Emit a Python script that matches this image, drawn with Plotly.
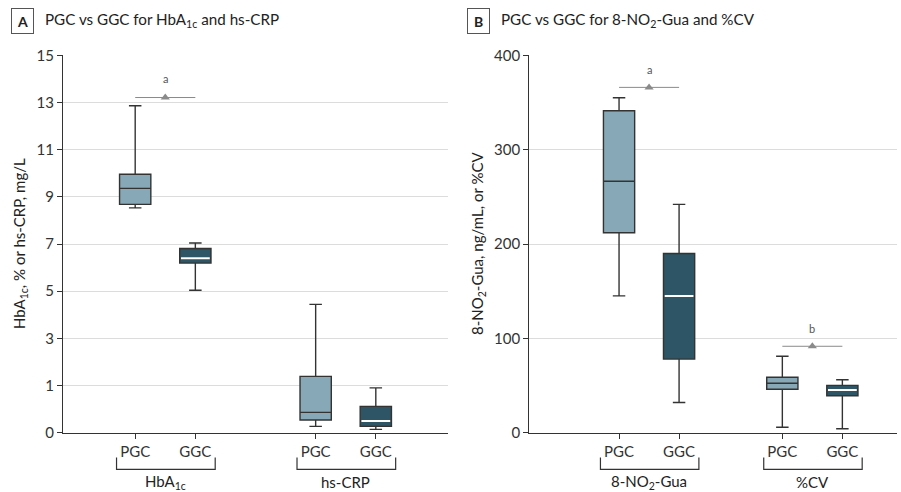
import plotly.graph_objects as go

# ---------------- data ----------------
groups_a = ["HbA<sub>1c</sub>", "hs-CRP"]
groups_b = ["8-NO<sub>2</sub>-Gua", "%CV"]
box_labels = ["PGC", "GGC"]

# panel A: [PGC, GGC] for each group
hba1c_low = [8.53, 5.04]
hba1c_q1 = [8.68, 6.19]
hba1c_med = [9.36, 6.40]
hba1c_q3 = [9.96, 6.81]
hba1c_high = [12.86, 7.04]

crp_low = [0.135, 0.07]
crp_q1 = [0.27, 0.135]
crp_med = [0.43, 0.247]
crp_q3 = [1.39, 0.557]
crp_high = [4.44, 0.95]

# panel B
gua_low = [145, 32]
gua_q1 = [212, 78]
gua_med = [266.5, 145]
gua_q3 = [341.3, 190]
gua_high = [355, 242]

cv_low = [5.7, 4.2]
cv_q1 = [46, 39.2]
cv_med = [52.4, 45.3]
cv_q3 = [58.7, 50.2]
cv_high = [81, 56.2]

# significance brackets: value of line, label
sig_a = [(13.21, "a")]
sig_b = [(366, "a"), (91.6, "b")]

yticks_a = [0, 1, 3, 5, 7, 9, 11, 13, 15]
yticks_b = [0, 100, 200, 300, 400]

# ---------------- style ----------------
FONT = "Lato, Roboto, sans-serif"
FILL = ["#86A8B7", "#2D5565"]
MEDC = ["#2a2a2a", "#ffffff"]
EDGE = "#333333"
GRID = "#dcdcdc"
SIGC = "#8a8a8a"

def ta(v):
    """piecewise scale of panel A: 0-1 stretched twice"""
    return 2 * v if v <= 1 else v + 1

pos_a = [[1, 2], [4, 5]]
pos_b = [[1, 2], [3.72, 4.72]]
BW = 0.52

fig = go.Figure()

def add_boxes(xref, yref, pos, lows, q1s, meds, q3s, highs, tf):
    for j in range(2):
        x = pos[j]
        fig.add_trace(go.Box(
            x=[x], q1=[tf(q1s[j])], median=[tf(meds[j])], q3=[tf(q3s[j])],
            lowerfence=[tf(lows[j])], upperfence=[tf(highs[j])],
            width=BW, whiskerwidth=0.4, fillcolor=FILL[j],
            line=dict(color=EDGE, width=1.4), boxpoints=False,
            xaxis=xref, yaxis=yref, showlegend=False, hoverinfo="skip"))
        if j == 1:
            fig.add_trace(go.Scatter(
                x=[x - BW / 2 + 0.02, x + BW / 2 - 0.02],
                y=[tf(meds[j]), tf(meds[j])], mode="lines",
                line=dict(color=MEDC[j], width=2),
                xaxis=xref, yaxis=yref, showlegend=False, hoverinfo="skip"))

ident = lambda v: v
add_boxes("x", "y", pos_a[0], hba1c_low, hba1c_q1, hba1c_med, hba1c_q3, hba1c_high, ta)
add_boxes("x", "y", pos_a[1], crp_low, crp_q1, crp_med, crp_q3, crp_high, ta)
add_boxes("x2", "y2", pos_b[0], gua_low, gua_q1, gua_med, gua_q3, gua_high, ident)
add_boxes("x2", "y2", pos_b[1], cv_low, cv_q1, cv_med, cv_q3, cv_high, ident)

annotations = []
shapes = []

def add_sig(xref, yref, pos, val, lab, tf, off):
    x0, x1 = pos
    fig.add_trace(go.Scatter(x=[x0, x1], y=[tf(val), tf(val)], mode="lines",
                             line=dict(color=SIGC, width=1),
                             xaxis=xref, yaxis=yref, showlegend=False, hoverinfo="skip"))
    fig.add_trace(go.Scatter(x=[(x0 + x1) / 2], y=[tf(val)], mode="markers",
                             marker=dict(symbol="triangle-up", size=8, color=SIGC),
                             xaxis=xref, yaxis=yref, showlegend=False, hoverinfo="skip"))
    annotations.append(dict(x=(x0 + x1) / 2, y=tf(val), xref=xref, yref=yref,
                            text=lab, showarrow=False, yshift=off,
                            font=dict(family=FONT, size=11, color="#555")))

add_sig("x", "y", pos_a[0], sig_a[0][0], sig_a[0][1], ta, 19)
add_sig("x2", "y2", pos_b[0], sig_b[0][0], sig_b[0][1], ident, 18)
add_sig("x2", "y2", pos_b[1], sig_b[1][0], sig_b[1][1], ident, 18)

H = 492.0
def py(p):
    return 1 - p / H

# brackets and group labels
for xref, pos, names in [("x", pos_a, groups_a), ("x2", pos_b, groups_b)]:
    for g in range(2):
        xl = pos[g][0] - 0.31
        xr = pos[g][1] + 0.33
        shapes.append(dict(type="path", xref=xref, yref="paper",
                           path=f"M {xl},{py(457.5)} L {xl},{py(469.3)} L {xr},{py(469.3)} L {xr},{py(457.5)}",
                           line=dict(color="#333", width=1.2)))
        annotations.append(dict(x=(pos[g][0] + pos[g][1]) / 2, y=py(482), xref=xref, yref="paper",
                                text=names[g], showarrow=False, yanchor="middle",
                                font=dict(family=FONT, size=15, color="#222")))

# panel titles
for lx, tx, letter, title in [(22.5, 43, "A", "PGC vs GGC for HbA<sub>1c</sub> and hs-CRP"),
                               (478, 499, "B", "PGC vs GGC for 8-NO<sub>2</sub>-Gua and %CV")]:
    annotations.append(dict(x=lx / 901, y=py(21.3), xref="paper", yref="paper",
                            text="<b>" + letter + "</b>", showarrow=False,
                            xanchor="center", yanchor="middle",
                            bordercolor="#555", borderwidth=1, borderpad=2,
                            width=17, height=20,
                            font=dict(family=FONT, size=14, color="#222")))
    annotations.append(dict(x=tx / 901, y=py(20), xref="paper", yref="paper",
                            text=title, showarrow=False, xanchor="left", yanchor="middle",
                            font=dict(family=FONT, size=15.2, color="#222")))

# y-axis titles
annotations.append(dict(x=20 / 901, y=py(244), xref="paper", yref="paper",
                        text="HbA<sub>1c</sub>, % or hs-CRP, mg/L", textangle=-90,
                        xanchor="center", yanchor="middle",
                        showarrow=False, font=dict(family=FONT, size=15, color="#222")))
annotations.append(dict(x=478 / 901, y=py(244), xref="paper", yref="paper",
                        text="8-NO<sub>2</sub>-Gua, ng/mL, or %CV", textangle=-90,
                        xanchor="center", yanchor="middle",
                        showarrow=False, font=dict(family=FONT, size=15, color="#222")))

tickfont = dict(family=FONT, size=15, color="#333")
ydom = [py(432.7), py(55.3)]

common = dict(showline=True, linecolor="#333", linewidth=1.2,
              ticks="outside", ticklen=5, tickcolor="#333",
              zeroline=False, tickfont=tickfont, automargin=False)

fig.update_layout(
    template="none",
    width=901, height=492, margin=dict(l=0, r=0, t=0, b=0, autoexpand=False),
    plot_bgcolor="white", paper_bgcolor="white", showlegend=False,
    annotations=annotations, shapes=shapes,
    xaxis=dict(domain=[63 / 901, 448 / 901], range=[-0.2, 6.2],
               tickvals=pos_a[0] + pos_a[1], ticktext=box_labels * 2,
               showgrid=False, anchor="y", **common),
    yaxis=dict(domain=ydom, range=[0, ta(15)],
               tickvals=[ta(v) for v in yticks_a], ticktext=[str(v) for v in yticks_a],
               showgrid=True, gridcolor=GRID, gridwidth=1, anchor="x", **common),
    xaxis2=dict(domain=[529.3 / 901, 897 / 901], range=[-0.495, 5.63],
                tickvals=pos_b[0] + pos_b[1], ticktext=box_labels * 2,
                showgrid=False, anchor="y2", **common),
    yaxis2=dict(domain=ydom, range=[0, 400],
                tickvals=yticks_b, ticktext=[str(v) for v in yticks_b],
                showgrid=True, gridcolor=GRID, gridwidth=1, anchor="x2", **common),
)

fig.write_html("out.html", config={"displayModeBar": False},
               post_script="document.body.style.margin='0';document.body.style.overflow='hidden';")
